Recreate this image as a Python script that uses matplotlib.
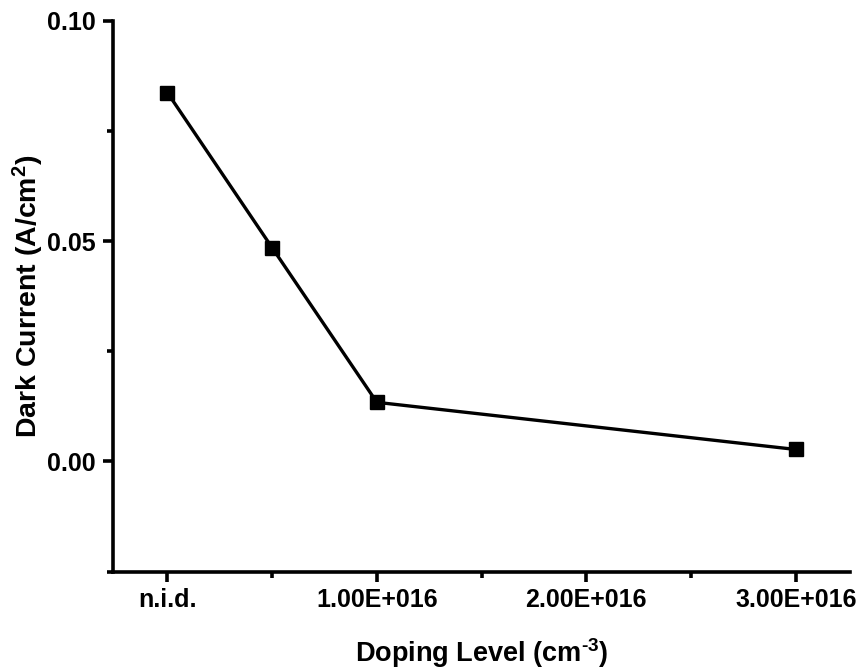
import matplotlib
matplotlib.use("Agg")
import matplotlib.pyplot as plt
from matplotlib.ticker import MultipleLocator, FixedLocator

plt.rcParams['font.family'] = ['Liberation Sans', 'DejaVu Sans']
plt.rcParams['font.weight'] = 'bold'
plt.rcParams['mathtext.fontset'] = 'custom'
plt.rcParams['mathtext.rm'] = 'Liberation Sans:bold'
plt.rcParams['mathtext.bf'] = 'Liberation Sans:bold'
plt.rcParams['mathtext.default'] = 'rm'

# Doping levels (cm^-3); 0 stands for not intentionally doped
doping = [0.0, 0.5e16, 1.0e16, 3.0e16]
dark_current = [0.0837, 0.0485, 0.0134, 0.0027]

x_tick_values = [0.0, 1.0e16, 2.0e16, 3.0e16]
x_tick_labels = ["n.i.d.", "1.00E+016", "2.00E+016", "3.00E+016"]
y_tick_values = [0.00, 0.05, 0.10]
y_tick_labels = ["0.00", "0.05", "0.10"]

fig = plt.figure(figsize=(8.63, 6.70), dpi=100)
ax = fig.add_axes([0.1306, 0.147, 0.8544, 0.822])

ax.plot(doping, dark_current, color='black', linewidth=2.4,
        marker='s', markersize=10.5, markerfacecolor='black',
        markeredgecolor='black', clip_on=False, zorder=3)

ax.set_xlim(-0.261e16, 3.259e16)
ax.set_ylim(-0.025, 0.10)

ax.xaxis.set_major_locator(FixedLocator(x_tick_values))
ax.set_xticklabels(x_tick_labels)
ax.xaxis.set_minor_locator(MultipleLocator(0.5e16))
ax.yaxis.set_major_locator(FixedLocator(y_tick_values))
ax.set_yticklabels(y_tick_labels)
ax.yaxis.set_minor_locator(MultipleLocator(0.025))

for side in ('top', 'right'):
    ax.spines[side].set_visible(False)
for side in ('left', 'bottom'):
    ax.spines[side].set_linewidth(2.6)

ax.tick_params(which='major', direction='out', length=7, width=2.6,
               labelsize=18, pad=5)
ax.tick_params(which='minor', direction='out', length=4, width=2.6)
for lab in ax.get_xticklabels() + ax.get_yticklabels():
    lab.set_fontweight('bold')

ax.set_xlabel(r"Doping Level (cm$^{\text{-3}}$)", fontsize=19.5, fontweight='bold', labelpad=17)
ax.set_ylabel("Dark Current (A/cm$^{2}$)", fontsize=20.5, fontweight='bold', labelpad=1)

fig.savefig("out.png", dpi=100)
